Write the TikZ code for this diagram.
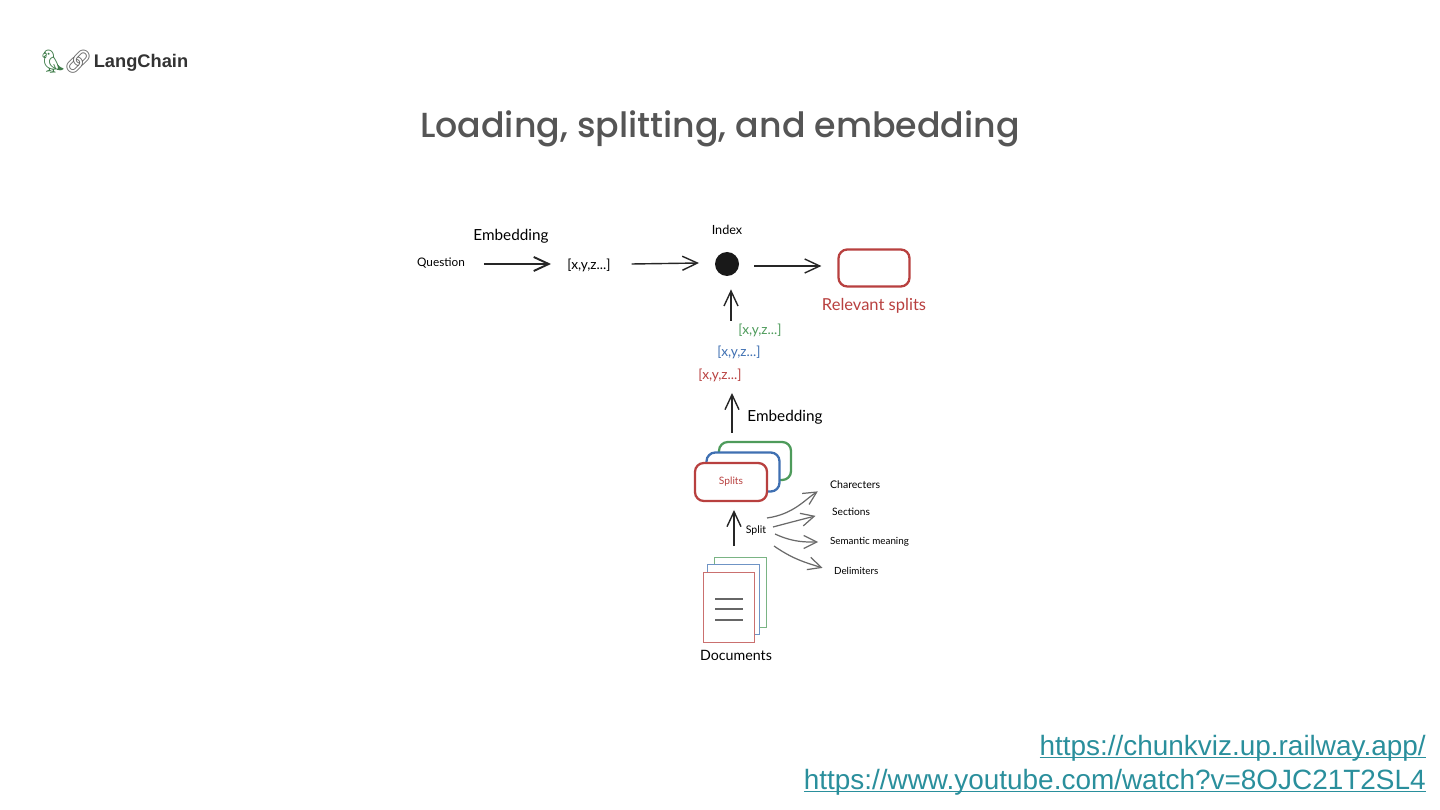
\documentclass[tikz,border=0pt]{standalone}
\usepackage{xcolor}
\usepackage{fontspec}
\usepackage{tikz}
\usetikzlibrary{arrows.meta}
\setmainfont{Lato}
\newfontfamily\titlefont{Poppins Medium}
\newfontfamily\linkfont{Liberation Sans}
\newfontfamily\logofont{Liberation Sans}[BoldFont={Liberation Sans Bold}]
\newfontfamily\emojifont{Noto Emoji}
\definecolor{sketchred}{HTML}{B8403F}
\definecolor{sketchblue}{HTML}{3F70B2}
\definecolor{sketchgreen}{HTML}{4E9B5B}
\definecolor{sketchgray}{HTML}{6A6A6A}
\definecolor{titlegray}{HTML}{555555}
\definecolor{linkteal}{HTML}{2A8F9C}
\tikzset{
  sketcharrow/.style={->, >={Straight Barb[length=3mm,width=2.8mm]}, line width=0.8pt, black!85},
  splitarrow/.style={->, >={Straight Barb[length=2.6mm,width=2.6mm]}, line width=0.7pt, sketchgray},
  smalltext/.style={font=\fontsize{6}{7}\selectfont, inner sep=1pt, yshift=-0.02cm},
  vectext/.style={font=\fontsize{7.8}{9}\selectfont, inner sep=1pt, yshift=-0.02cm},
  bigtext/.style={font=\fontsize{9}{11}\selectfont, inner sep=1pt, yshift=-0.04cm},
  splitbox/.style={line width=1.3pt, rounded corners=5pt, fill=white},
  docpage/.style={line width=0.5pt, fill=white},
  linktext/.style={font=\linkfont\fontsize{15.9}{18}\selectfont, text=linkteal, anchor=east, inner sep=0pt},
}
\begin{document}
\begin{tikzpicture}[x=0.02cm,y=-0.02cm]
    \useasboundingbox (0,0) rectangle (1440,810);

    % Logo and title
    \node[font=\emojifont\fontsize{13}{15}\selectfont, text=sketchgreen!80!black, inner sep=0pt] (parrot) at (53,62) {🦜};
    \node[font=\emojifont\fontsize{13}{15}\selectfont, text=sketchgray, inner sep=0pt] (chain) at (78,62) {🔗};
    \node[font=\logofont\bfseries\fontsize{10.4}{13}\selectfont, text=black!80, inner sep=0pt] (logo) at (141,63) {LangChain};
    \node[font=\titlefont\fontsize{19.8}{25}\selectfont, text=titlegray, inner sep=0pt] (title) at (720,129) {Loading, splitting, and embedding};

    % Question row
    \node[smalltext, font=\fontsize{6.7}{8}\selectfont] (question) at (441,262) {Question};
    \node[vectext] (qvector) at (589,264) {[x,y,z...]};
    \node[bigtext, font=\fontsize{8.7}{11}\selectfont] (qembedding) at (511,234) {Embedding};
    \node[smalltext, font=\fontsize{7.2}{8}\selectfont] (indexlabel) at (727,229) {Index};
    \node[circle, fill=black!90, minimum size=0.48cm, inner sep=0pt] (index) at (727,264) {};
    \node[draw=sketchred, splitbox, minimum width=1.42cm, minimum height=0.74cm] (result) at (874,268) {};
    \node[bigtext, font=\fontsize{9.4}{11}\selectfont, text=sketchred] (relevant) at (874,304) {Relevant splits};

    \draw[sketcharrow, line width=1.1pt] (question.east) ++(17,1) coordinate (qstart) (qstart) -- (551,264);
    \draw[sketcharrow] (qvector.east) ++(19,-1) coordinate (vstart) (vstart) -- (699,263);
    \draw[sketcharrow, shorten >=0.32cm] (index.east) ++(15,2) coordinate (istart) (istart) -- (result.west |- istart);

    % Vectors
    \node[vectext, text=sketchgreen] (vecgreen) at (760,329) {[x,y,z...]};
    \node[vectext, text=sketchblue] (vecblue) at (739,351) {[x,y,z...]};
    \node[vectext, text=sketchred] (vecred) at (720,374) {[x,y,z...]};
    \coordinate (upstart) at (731,321);
    \draw[sketcharrow, shorten >=0.26cm] (upstart) -- (index.south -| upstart);

    % Splits
    \node[draw=sketchgreen, splitbox, minimum width=1.44cm, minimum height=0.76cm] (greensplit) at (755,461) {};
    \node[draw=sketchblue, splitbox, minimum width=1.46cm, minimum height=0.78cm] (bluesplit) at (743,472) {};
    \node[draw=sketchred, splitbox, minimum width=1.44cm, minimum height=0.76cm, font=\fontsize{5.8}{7}\selectfont, text=sketchred] (redsplit) at (731,482) {Splits};
    \node[bigtext, font=\fontsize{8.7}{11}\selectfont] (embedding) at (785,415) {Embedding};
    \coordinate (embedstart) at (732,433);
    \coordinate (embedend) at (732,393);
    \draw[sketcharrow] (embedstart) -- (embedend);

    % Documents
    \node[draw=sketchgreen!75, docpage, minimum width=1.04cm, minimum height=1.4cm] (docgreen) at (740,592) {};
    \node[draw=sketchblue!75, docpage, minimum width=1.04cm, minimum height=1.4cm] (docblue) at (733,599) {};
    \node[draw=sketchred!75, docpage, minimum width=1.02cm, minimum height=1.4cm] (docred) at (728.5,607) {};
    \foreach \liney in {599,609,620}
        \draw[black!60, line width=0.6pt] (715,\liney) -- (743,\liney);
    \node[bigtext, font=\fontsize{8.1}{10}\selectfont] (documents) at (736,653) {Documents};
    \coordinate (splitstart) at (734,546);
    \coordinate (splitend) at (734,510);
    \draw[sketcharrow] (splitstart) -- (splitend);

    % Split methods
    \node[smalltext] (splitlabel) at (756,530) {Split};
    \node[smalltext, anchor=west] (characters) at (828,484) {Charecters};
    \node[smalltext, font=\fontsize{5.8}{7}\selectfont, anchor=west] (sections) at (830,511) {Sections};
    \node[smalltext, font=\fontsize{5.6}{7}\selectfont, anchor=west] (semantic) at (828,541) {Semantic meaning};
    \node[smalltext, font=\fontsize{5.6}{7}\selectfont, anchor=west] (delimiters) at (832,570) {Delimiters};
    \coordinate (charstart) at (767,518);
    \coordinate (sectstart) at (773,527);
    \coordinate (semstart) at (775,534);
    \coordinate (delimstart) at (774,546);
    \draw[splitarrow, shorten >=0.24cm] (charstart) to[out=8, in=212] (characters.west);
    \draw[splitarrow, shorten >=0.30cm] (sectstart) to[out=15, in=195] (sections.west);
    \draw[splitarrow, shorten >=0.20cm] (semstart) to[out=-25, in=180] (semantic.west);
    \draw[splitarrow, shorten >=0.20cm] (delimstart) to[out=-35, in=162] (delimiters.west);

    % Links
    \node[linktext] (chunkviz) at (1426,757) {\underline{\smash{https://chunkviz.up.railway.app/}}};
    \node[linktext] (youtube) at (1426,791) {\underline{\smash{https://www.youtube.com/watch?v=8OJC21T2SL4}}};
\end{tikzpicture}
\end{document}
